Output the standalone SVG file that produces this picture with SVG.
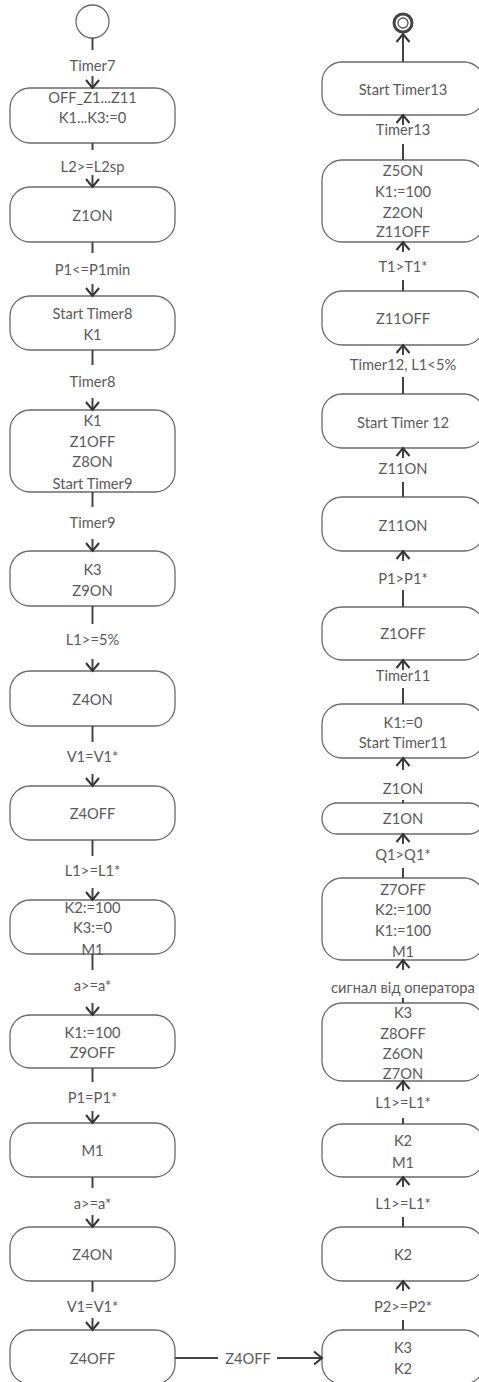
<svg xmlns="http://www.w3.org/2000/svg" width="479" height="1382" viewBox="0 0 479 1382">
<style>
.n{fill:#fff;stroke:#6a6a6a;stroke-width:1.3}
.t{font-family:Lato,"Open Sans",sans-serif;font-size:14.7px;fill:#5a5a5a;text-anchor:middle;dominant-baseline:central}
.c{stroke:#444;stroke-width:2;fill:none}
.a{stroke:#444;stroke-width:2;fill:none;marker-end:url(#ah)}
</style>
<defs>
<marker id="ah" markerUnits="userSpaceOnUse" markerWidth="20" markerHeight="20" refX="0" refY="0" viewBox="-10 -10 20 20" orient="auto" overflow="visible">
<path d="M-8,-6.5 L0,0 L-8,6.5" fill="none" stroke="#333" stroke-width="2"/>
</marker>
</defs>
<rect width="479" height="1382" fill="#fff"/>

<g id="start"><circle cx="92.5" cy="21.5" r="16.5" class="n"/></g>
<g id="L1"><rect x="10" y="88" width="165" height="55" rx="20" class="n"/><text class="t" x="92.5" y="97">OFF_Z1...Z11</text><text class="t" x="92.5" y="117">K1...K3:=0</text></g>
<g id="L2"><rect x="10" y="187" width="165" height="55" rx="20" class="n"/><text class="t" x="92.5" y="215">Z1ON</text></g>
<g id="L3"><rect x="10" y="296" width="165" height="54" rx="20" class="n"/><text class="t" x="92.5" y="313">Start Timer8</text><text class="t" x="92.5" y="334">K1</text></g>
<g id="L4"><rect x="10" y="410" width="165" height="82" rx="20" class="n"/><text class="t" x="92.5" y="420">K1</text><text class="t" x="92.5" y="441">Z1OFF</text><text class="t" x="92.5" y="461">Z8ON</text><text class="t" x="92.5" y="483">Start Timer9</text></g>
<g id="L5"><rect x="10" y="551" width="165" height="55" rx="20" class="n"/><text class="t" x="92.5" y="569">K3</text><text class="t" x="92.5" y="590">Z9ON</text></g>
<g id="L6"><rect x="10" y="671" width="165" height="55" rx="20" class="n"/><text class="t" x="92.5" y="699">Z4ON</text></g>
<g id="L7"><rect x="10" y="786" width="165" height="54" rx="20" class="n"/><text class="t" x="92.5" y="813">Z4OFF</text></g>
<g id="L8"><rect x="10" y="900" width="165" height="54" rx="20" class="n"/><text class="t" x="92.5" y="907">K2:=100</text><text class="t" x="92.5" y="927">K3:=0</text><text class="t" x="92.5" y="949">M1</text></g>
<g id="L9"><rect x="10" y="1015" width="165" height="53" rx="20" class="n"/><text class="t" x="92.5" y="1032">K1:=100</text><text class="t" x="92.5" y="1052">Z9OFF</text></g>
<g id="L10"><rect x="10" y="1123" width="165" height="54" rx="20" class="n"/><text class="t" x="92.5" y="1150">M1</text></g>
<g id="L11"><rect x="10" y="1227" width="165" height="54" rx="20" class="n"/><text class="t" x="92.5" y="1254">Z4ON</text></g>
<g id="L12"><rect x="10" y="1330" width="165" height="54" rx="20" class="n"/><text class="t" x="92.5" y="1358">Z4OFF</text></g>

<g id="final"><circle cx="403" cy="23" r="9" fill="#fff" stroke="#444" stroke-width="3"/><circle cx="403" cy="23" r="5" fill="none" stroke="#555" stroke-width="1.3"/></g>
<g id="R1"><rect x="322" y="62" width="162" height="53" rx="20" class="n"/><text class="t" x="403" y="89">Start Timer13</text></g>
<g id="R2"><rect x="322" y="160" width="162" height="82" rx="20" class="n"/><text class="t" x="403" y="170">Z5ON</text><text class="t" x="403" y="191">K1:=100</text><text class="t" x="403" y="212">Z2ON</text><text class="t" x="403" y="231">Z11OFF</text></g>
<g id="R3"><rect x="322" y="291" width="162" height="54" rx="20" class="n"/><text class="t" x="403" y="318">Z11OFF</text></g>
<g id="R4"><rect x="322" y="394" width="162" height="54" rx="20" class="n"/><text class="t" x="403" y="422">Start Timer 12</text></g>
<g id="R5"><rect x="322" y="497" width="162" height="54" rx="20" class="n"/><text class="t" x="403" y="525">Z11ON</text></g>
<g id="R6"><rect x="322" y="607" width="162" height="53" rx="20" class="n"/><text class="t" x="403" y="633">Z1OFF</text></g>
<g id="R7"><rect x="322" y="704" width="162" height="54" rx="20" class="n"/><text class="t" x="403" y="722">K1:=0</text><text class="t" x="403" y="742">Start Timer11</text></g>
<g id="R8"><rect x="322" y="803" width="162" height="31" rx="15" class="n"/><text class="t" x="403" y="818">Z1ON</text></g>
<g id="R9"><rect x="322" y="878" width="162" height="82" rx="20" class="n"/><text class="t" x="403" y="889">Z7OFF</text><text class="t" x="403" y="909">K2:=100</text><text class="t" x="403" y="930">K1:=100</text><text class="t" x="403" y="951">M1</text></g>
<g id="R10"><rect x="322" y="1003" width="162" height="78" rx="20" class="n"/><text class="t" x="403" y="1012">K3</text><text class="t" x="403" y="1033">Z8OFF</text><text class="t" x="403" y="1053">Z6ON</text><text class="t" x="403" y="1073">Z7ON</text></g>
<g id="R11"><rect x="322" y="1124" width="162" height="53" rx="20" class="n"/><text class="t" x="403" y="1140">K2</text><text class="t" x="403" y="1162">M1</text></g>
<g id="R12"><rect x="322" y="1227" width="162" height="54" rx="20" class="n"/><text class="t" x="403" y="1254">K2</text></g>
<g id="R13"><rect x="322" y="1330" width="162" height="54" rx="20" class="n"/><text class="t" x="403" y="1347">K3</text><text class="t" x="403" y="1368">K2</text></g>

<g id="connectors">
<path class="c" d="M92.5,38V50"/><path class="a" d="M92.5,76V88"/><text class="t" x="92.5" y="65">Timer7</text>
<path class="c" d="M92.5,143V150"/><path class="a" d="M92.5,175V187"/><text class="t" x="92.5" y="166">L2&gt;=L2sp</text>
<path class="c" d="M92.5,242V253"/><path class="a" d="M92.5,284V296"/><text class="t" x="92.5" y="269">P1&lt;=P1min</text>
<path class="c" d="M92.5,350V365"/><path class="a" d="M92.5,398V410"/><text class="t" x="92.5" y="381">Timer8</text>
<path class="c" d="M92.5,492V507"/><path class="a" d="M92.5,539V551"/><text class="t" x="92.5" y="522">Timer9</text>
<path class="c" d="M92.5,606V624"/><path class="a" d="M92.5,659V671"/><text class="t" x="92.5" y="639">L1&gt;=5%</text>
<path class="c" d="M92.5,726V742"/><path class="a" d="M92.5,774V786"/><text class="t" x="92.5" y="756">V1=V1*</text>
<path class="c" d="M92.5,840V856"/><path class="a" d="M92.5,888V900"/><text class="t" x="92.5" y="870">L1&gt;=L1*</text>
<path class="c" d="M92.5,954V970"/><path class="a" d="M92.5,1003V1015"/><text class="t" x="92.5" y="985">a&gt;=a*</text>
<path class="c" d="M92.5,1068V1082"/><path class="a" d="M92.5,1111V1123"/><text class="t" x="92.5" y="1097">P1=P1*</text>
<path class="c" d="M92.5,1177V1188"/><path class="a" d="M92.5,1215V1227"/><text class="t" x="92.5" y="1203">a&gt;=a*</text>
<path class="c" d="M92.5,1281V1292"/><path class="a" d="M92.5,1318V1330"/><text class="t" x="92.5" y="1306">V1=V1*</text>

<path class="c" d="M175,1358H218"/><path class="a" d="M277,1358H322"/><text class="t" x="248" y="1358">Z4OFF</text>

<path class="a" d="M403,62V34"/>
<path class="c" d="M403,160V144"/><path class="a" d="M403,125V115"/><text class="t" x="403" y="129">Timer13</text>
<path class="c" d="M403,291V280"/><path class="a" d="M403,252V242"/><text class="t" x="403" y="266">T1&gt;T1*</text>
<path class="c" d="M403,394V377"/><path class="a" d="M403,355V345"/><text class="t" x="403" y="364">Timer12, L1&lt;5%</text>
<path class="c" d="M403,497V482"/><path class="a" d="M403,458V448"/><text class="t" x="403" y="468">Z11ON</text>
<path class="c" d="M403,607V590"/><path class="a" d="M403,561V551"/><text class="t" x="403" y="578">P1&gt;P1*</text>
<path class="c" d="M403,704V688"/><path class="a" d="M403,670V660"/><text class="t" x="403" y="675">Timer11</text>
<path class="c" d="M403,803V800"/><path class="a" d="M403,770V758"/><text class="t" x="403" y="788">Z1ON</text>
<path class="c" d="M403,878V868"/><path class="a" d="M403,844V834"/><text class="t" x="403" y="854">Q1&gt;Q1*</text>
<path class="c" d="M403,1003V998"/><path class="a" d="M403,970V960"/><text class="t" x="403" y="987">сигнал від оператора</text>
<path class="c" d="M403,1124V1118"/><path class="a" d="M403,1091V1081"/><text class="t" x="403" y="1102">L1&gt;=L1*</text>
<path class="c" d="M403,1227V1217"/><path class="a" d="M403,1187V1177"/><text class="t" x="403" y="1203">L1&gt;=L1*</text>
<path class="c" d="M403,1330V1320"/><path class="a" d="M403,1291V1281"/><text class="t" x="403" y="1306">P2&gt;=P2*</text>
</g>
</svg>
